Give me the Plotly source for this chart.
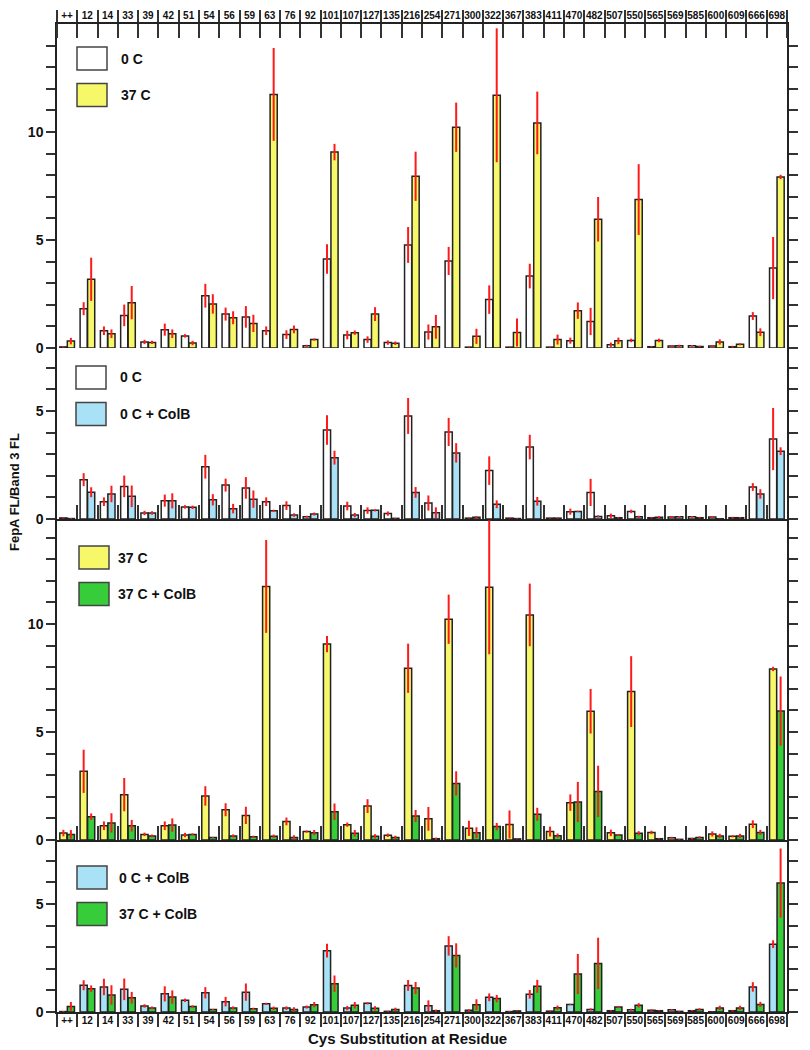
import plotly.graph_objects as go

categories = ["++", "12", "14", "33", "39", "42", "51", "54", "56", "59", "63", "76",
              "92", "101", "107", "127", "135", "216", "254", "271", "300", "322", "367",
              "383", "411", "470", "482", "507", "550", "565", "569", "585", "600", "609",
              "666", "698"]

c0 = [0.05, 1.82, 0.80, 1.51, 0.28, 0.85, 0.56, 2.42, 1.57, 1.44, 0.80, 0.62,
      0.10, 4.12, 0.60, 0.39, 0.25, 4.77, 0.74, 4.03, 0.04, 2.24, 0.04,
      3.33, 0.04, 0.34, 1.23, 0.15, 0.35, 0.06, 0.09, 0.10, 0.09, 0.06,
      1.48, 3.70]
c0_err = [0.03, 0.30, 0.20, 0.50, 0.10, 0.28, 0.08, 0.55, 0.30, 0.50, 0.20, 0.20,
          0.05, 0.68, 0.20, 0.15, 0.10, 0.83, 0.35, 0.65, 0.02, 0.66, 0.02,
          0.57, 0.02, 0.14, 0.63, 0.10, 0.08, 0.03, 0.05, 0.04, 0.05, 0.04,
          0.18, 1.44]

c37 = [0.32, 3.18, 0.66, 2.10, 0.26, 0.66, 0.23, 2.04, 1.40, 1.14, 11.74, 0.86,
       0.39, 9.07, 0.71, 1.57, 0.22, 7.95, 0.98, 10.22, 0.54, 11.70, 0.72,
       10.42, 0.39, 1.73, 5.96, 0.33, 6.87, 0.35, 0.10, 0.07, 0.28, 0.17,
       0.73, 7.92]
c37_err = [0.15, 1.00, 0.20, 0.77, 0.08, 0.20, 0.10, 0.45, 0.30, 0.40, 2.15, 0.18,
           0.05, 0.38, 0.10, 0.32, 0.08, 1.14, 0.55, 1.14, 0.35, 3.10, 0.65,
           1.45, 0.23, 0.38, 1.03, 0.15, 1.64, 0.08, 0.05, 0.03, 0.12, 0.05,
           0.18, 0.10]

c0b = [0.02, 1.24, 1.16, 1.05, 0.28, 0.84, 0.54, 0.89, 0.48, 0.92, 0.38, 0.18,
       0.23, 2.84, 0.18, 0.40, 0.03, 1.23, 0.29, 3.06, 0.08, 0.68, 0.02,
       0.82, 0.04, 0.35, 0.12, 0.06, 0.10, 0.08, 0.10, 0.06, 0.01, 0.06,
       1.16, 3.14]
c0b_err = [0.02, 0.23, 0.38, 0.50, 0.08, 0.35, 0.08, 0.26, 0.22, 0.40, 0.05, 0.08,
           0.07, 0.32, 0.10, 0.05, 0.02, 0.25, 0.25, 0.45, 0.05, 0.18, 0.02,
           0.20, 0.02, 0.03, 0.05, 0.03, 0.05, 0.05, 0.04, 0.03, 0.01, 0.03,
           0.22, 0.18]

c37b = [0.26, 1.08, 0.79, 0.66, 0.19, 0.69, 0.26, 0.11, 0.19, 0.15, 0.17, 0.12,
        0.34, 1.31, 0.31, 0.17, 0.12, 1.11, 0.06, 2.62, 0.34, 0.62, 0.05,
        1.19, 0.20, 1.76, 2.25, 0.23, 0.31, 0.06, 0.03, 0.12, 0.19, 0.19,
        0.35, 5.97]
c37b_err = [0.20, 0.15, 0.45, 0.27, 0.06, 0.31, 0.05, 0.03, 0.07, 0.05, 0.08, 0.10,
            0.12, 0.38, 0.15, 0.10, 0.08, 0.28, 0.05, 0.56, 0.25, 0.17, 0.02,
            0.30, 0.10, 0.93, 1.19, 0.05, 0.10, 0.02, 0.02, 0.05, 0.10, 0.10,
            0.12, 1.60]

series = {
    "0 C": (c0, c0_err, "#FFFFFF"),
    "37 C": (c37, c37_err, "#F7F76A"),
    "0 C + ColB": (c0b, c0b_err, "#A9E2F7"),
    "37 C + ColB": (c37b, c37b_err, "#36CC3A"),
}
panels = [("0 C", "37 C"), ("0 C", "0 C + ColB"), ("37 C", "37 C + ColB"), ("0 C + ColB", "37 C + ColB")]

FONT = "Liberation Sans, Arial, sans-serif"
W, H = 810, 1050
ML, MR, MT, MB = 57, 23, 24, 38
PW, PH = W - ML - MR, H - MT - MB
panel_px = [324, 171, 321, 172]          # panel heights in pixels
px_per_unit = 21.6

xs = list(range(len(categories)))
bounds = [i - 0.5 for i in range(len(categories) + 1)]
bounds_minor = [b + 1e-4 for b in bounds]
xrange_ = [-0.5, len(categories) - 0.5]
half_cat_px = int(round(PW / len(categories) / 2))

fig = go.Figure()
LINE = "#222222"
TICK = "#333333"

doms = []
top = PH
for h in panel_px:
    doms.append([(top - h) / PH, top / PH])
    top -= h

for k, (a, b) in enumerate(panels):
    xa = "x" if k == 0 else f"x{k+1}"
    ya = "y" if k == 0 else f"y{k+1}"
    for name in (a, b):
        vals, errs, col = series[name]
        fig.add_trace(go.Bar(
            x=xs, y=vals, name=name, xaxis=xa, yaxis=ya, showlegend=False,
            marker=dict(color=col, line=dict(color=LINE, width=1.5)),
            error_y=dict(type="data", array=errs, color="#FF1A1A", thickness=2, width=0),
        ))

layout = dict(
    width=W, height=H, margin=dict(l=ML, r=MR, t=MT, b=MB, autoexpand=False),
    plot_bgcolor="white", paper_bgcolor="white", template="none",
    barmode="group", bargap=0.26, bargroupgap=0.05,
    font=dict(family=FONT, color="#111111", weight="bold"),
    showlegend=False,
)

tickfont_x = dict(family=FONT, size=10, color="#111111", weight="bold")
common_x = dict(range=xrange_, showgrid=False, zeroline=False, automargin=False,
                tickwidth=1.5, tickcolor=TICK, linecolor=LINE, linewidth=1.5)

def boundary_axis(over, anchor, side, ticklen, showline=False):
    return dict(overlaying=over, anchor=anchor, side=side, tickmode="array",
                tickvals=bounds, ticks="inside", ticklen=ticklen,
                showticklabels=False, showline=showline, **common_x)

def label_axis(anchor, side, ticklen, standoff, inner_len=None):
    # separators at category boundaries, labels shifted to the category centres
    d = dict(domain=[0, 1], anchor=anchor, side=side, tickmode="array",
             tickvals=bounds, ticktext=categories + [""], ticks="outside",
             ticklen=ticklen, ticklabelshift=half_cat_px, ticklabelstandoff=standoff,
             tickfont=tickfont_x, showline=True, **common_x)
    if inner_len:
        d["minor"] = dict(tickmode="array", tickvals=bounds_minor, ticks="inside",
                          ticklen=inner_len, tickwidth=1.5, tickcolor=TICK)
    return d

for k in range(4):
    xn = "xaxis" if k == 0 else f"xaxis{k+1}"
    yn = "yaxis" if k == 0 else f"yaxis{k+1}"
    ya = "y" if k == 0 else f"y{k+1}"
    xa = "x" if k == 0 else f"x{k+1}"
    ymax = panel_px[k] / px_per_unit
    if k == 0:
        layout[xn] = label_axis(ya, "top", 12, -13, inner_len=14)
    elif k == 3:
        layout[xn] = label_axis(ya, "bottom", 13, -15)
    else:
        layout[xn] = dict(domain=[0, 1], anchor=ya, side="bottom", tickmode="array",
                          tickvals=bounds, ticks="inside", ticklen=14,
                          showticklabels=False, showline=True, **common_x)
    majors = [v for v in (0, 5, 10) if v <= ymax]
    layout[yn] = dict(domain=doms[k], anchor=xa, range=[0, ymax], tickmode="array",
                      tickvals=majors, ticktext=[str(v) for v in majors],
                      ticks="outside", ticklen=9, tickwidth=1.5, tickcolor=TICK,
                      minor=dict(tickmode="array", tickvals=list(range(0, int(ymax) + 1)),
                                 ticks="outside", ticklen=9, tickwidth=1.5, tickcolor=TICK),
                      mirror="ticks", showline=True, linecolor=LINE, linewidth=1.5,
                      showgrid=False, zeroline=False, automargin=False,
                      tickfont=dict(family=FONT, size=14, color="#111111", weight="bold"))

layout["xaxis5"] = boundary_axis("x", "y", "bottom", 14, showline=True)
layout["xaxis6"] = boundary_axis("x2", "y2", "top", 10)
layout["xaxis7"] = boundary_axis("x3", "y3", "top", 10)
layout["xaxis8"] = boundary_axis("x4", "y4", "top", 10)
layout["xaxis9"] = boundary_axis("x4", "y4", "bottom", 13)
fig.update_layout(**layout)

legend_pos = [  # (box x px, first box top px, text x px)
    (77, 47, 119),
    (76, 366, 118),
    (79, 546, 116),
    (77, 866, 117),
]

def px2paper(xp, yp):
    return (xp - ML) / PW, 1 - (yp - MT) / PH

shapes = []
annots = []
for k, (a, b) in enumerate(panels):
    bx, by, tx = legend_pos[k]
    for j, name in enumerate((a, b)):
        top_px = by + j * 36.5
        x0, y1 = px2paper(bx, top_px)
        x1, y0 = px2paper(bx + 30, top_px + 23)
        shapes.append(dict(type="rect", xref="paper", yref="paper", x0=x0, x1=x1,
                           y0=y0, y1=y1, fillcolor=series[name][2],
                           line=dict(color="#444444", width=1.5)))
        axp, ayp = px2paper(tx, top_px + 11.5)
        annots.append(dict(text=name, xref="paper", yref="paper", x=axp, y=ayp,
                           xanchor="left", yanchor="middle", showarrow=False,
                           font=dict(family=FONT, size=14, color="#111111", weight="bold")))

ax_, ay_ = px2paper(15, 492)
annots.append(dict(text="FepA FL/Band 3 FL", xref="paper", yref="paper", x=ax_, y=ay_,
                   xanchor="center", yanchor="middle", textangle=-90, showarrow=False,
                   font=dict(family=FONT, size=13, color="#111111", weight="bold")))
ax_, ay_ = px2paper(407, 1038)
annots.append(dict(text="Cys Substitution at Residue", xref="paper", yref="paper", x=ax_, y=ay_,
                   xanchor="center", yanchor="middle", showarrow=False,
                   font=dict(family=FONT, size=15, color="#111111", weight="bold")))
fig.update_layout(shapes=shapes, annotations=annots)

fig.write_html("out.html", config={"displayModeBar": False},
               post_script="document.body.style.margin='0px';")
